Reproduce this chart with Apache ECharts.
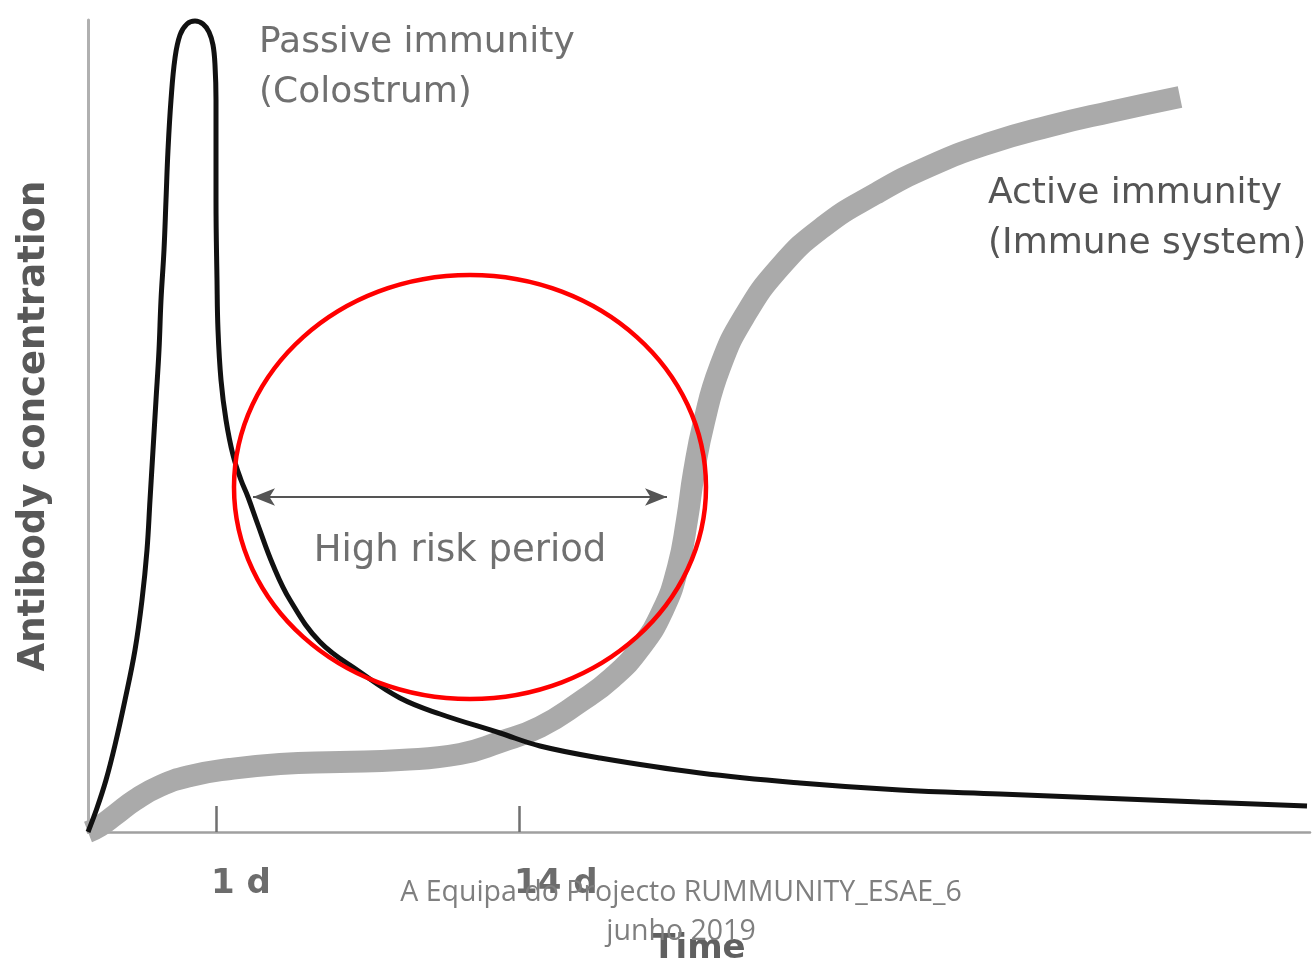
<!DOCTYPE html>
<html><head><meta charset="utf-8">
<script src="https://cdn.jsdelivr.net/npm/echarts@6/dist/echarts.min.js"></script>
<style>html,body{margin:0;padding:0;background:#fff}#c{width:1314px;height:961px}</style>
</head><body><div id="c"></div>
<script>
// Passive immunity (colostrum) curve
const passiveTime = [0,0.9,1.8,2.7,3.7,4.7,5.4,5.9,6.2,6.5,6.8,7.1,7.3,7.6,7.8,8.0,8.3,8.7,9.2,9.9,10.7,11.5,12.1,12.5,12.7,12.8,12.8,12.9,13.0,13.3,13.8,14.5,15.3,16.0,17.0,18.5,20.2,23.2,27.2,31.2,35.2,41.2,45.2,51.2,61.2,71.2,81.2,91.2,101.2,111.2,121.9];
const passiveLevel = [0,2.4,5.2,8.7,13.2,18.2,23.2,28.2,33.2,38.2,43.2,48.2,53.2,58.2,63.2,68.2,73.2,77.4,79.7,80.8,81.1,80.8,80.0,78.7,76.7,73.2,63.2,55.2,50.2,45.2,41.2,37.7,35.2,33.5,30.7,26.7,23.2,19.0,16.0,13.4,11.8,9.9,8.6,7.4,5.9,4.9,4.2,3.8,3.4,3.0,2.6];
// Active immunity (immune system) curve
const activeTime = [0,1.2,2.7,4.7,7.2,10.2,14.2,19.2,25.2,31.2,37.2,41.2,45.2,49.2,52.4,55.2,57.5,59.0,59.9,60.6,61.6,63.2,65.6,69.2,73.5,78.7,84.2,90.2,96.2,102.2,109.2];
const activeLevel = [0,0.6,1.7,3.2,4.6,5.6,6.3,6.8,7.0,7.2,7.8,9.0,10.5,13.0,15.4,18.4,22.2,26.5,31.2,36.0,41.0,46.5,51.5,56.5,60.5,63.8,66.6,68.9,70.6,72.0,73.5];
// Axis ticks
const tickValues = [12.8, 43.1];
const tickLabels = ['1 d', '14 d'];
// High risk period annotation
const riskStart = [16.5, 33.5];
const riskEnd = [57.9, 33.5];
const riskLabel = 'High risk period';
const ellipseCenter = [38.2, 34.5];
const ellipseRadii = [23.6, 21.2];

const zip = (a, b) => a.map((v, i) => [v, b[i]]);

const chart = echarts.init(document.getElementById('c'), null, {renderer: 'canvas'});
chart.setOption({
  animation: false,
  backgroundColor: '#fff',
  grid: {left: 88, right: 4, top: 20, bottom: 129, containLabel: false, outerBoundsMode: 'none'},
  xAxis: {
    type: 'value', min: 0, max: 122.2,
    name: 'Time', nameLocation: 'middle', nameGap: 100,
    nameTextStyle: {fontFamily: 'DejaVu Sans', fontWeight: 'bold', fontSize: 34, color: '#606060'},
    axisLine: {show: true, lineStyle: {color: '#a0a0a0', width: 2.5}},
    splitLine: {show: false},
    axisTick: {show: true, inside: true, length: 26, customValues: tickValues, lineStyle: {color: '#707070', width: 2.5}},
    axisLabel: {
      show: true, customValues: tickValues, align: 'left', margin: 35,
      fontFamily: 'DejaVu Sans', fontWeight: 'bold', fontSize: 34, color: '#6c6c6c',
      padding: [0, 0, 0, -5],
      formatter: v => { const i = tickValues.indexOf(v); return i >= 0 ? tickLabels[i] : ''; }
    }
  },
  yAxis: {
    type: 'value', min: 0, max: 81.2,
    name: 'Antibody concentration', nameLocation: 'middle', nameGap: 35, nameRotate: 90,
    nameTextStyle: {fontFamily: 'DejaVu Sans', fontWeight: 'bold', fontSize: 37, color: '#585858'},
    axisLine: {show: true, lineStyle: {color: '#b0b0b0', width: 3}},
    axisTick: {show: false}, axisLabel: {show: false}, splitLine: {show: false}
  },
  series: [
    {
      type: 'line', name: 'Active immunity', data: zip(activeTime, activeLevel),
      smooth: 0.5, symbol: 'none', clip: false,
      lineStyle: {color: '#aaaaaa', width: 22, cap: 'butt'},
      markLine: {
        silent: true, symbol: ['arrow', 'arrow'], symbolSize: [13, 22],
        lineStyle: {color: '#555', width: 2, type: 'solid'},
        label: {show: true, position: 'insideMiddleBottom', distance: 36, formatter: riskLabel,
          fontFamily: 'DejaVu Sans', fontSize: 37, color: '#707070'},
        data: [[{coord: riskStart}, {coord: riskEnd}]]
      }
    },
    {
      type: 'line', name: 'Passive immunity', data: zip(passiveTime, passiveLevel),
      smooth: 0.4, symbol: 'none', clip: false,
      lineStyle: {color: '#111', width: 5}
    }
  ]
});

const c0 = chart.convertToPixel({gridIndex: 0}, ellipseCenter);
const c1 = chart.convertToPixel({gridIndex: 0}, [ellipseCenter[0] + ellipseRadii[0], ellipseCenter[1] + ellipseRadii[1]]);
const txt = (x, y, text, color) => ({
  type: 'text', x: x, y: y, z: 50,
  style: {text: text, fontFamily: 'DejaVu Sans', fontSize: 36, fill: color, lineHeight: 50}
});
chart.setOption({
  graphic: [
    {type: 'ellipse', z: 60, shape: {cx: c0[0], cy: c0[1], rx: c1[0] - c0[0], ry: c0[1] - c1[1]},
     style: {fill: 'none', stroke: '#ff0000', lineWidth: 4.5}},
    txt(259, 18, 'Passive immunity\n(Colostrum)', '#707070'),
    txt(988, 169, 'Active immunity\n(Immune system)', '#555555'),
    {type: 'text', x: 681, y: 873, z: 100,
     style: {text: 'A Equipa do Projecto RUMMUNITY_ESAE_6\njunho 2019', fontFamily: 'Open Sans', fontSize: 28.5,
       fill: '#7f7f7f', align: 'center', lineHeight: 39}}
  ]
});
</script></body></html>
